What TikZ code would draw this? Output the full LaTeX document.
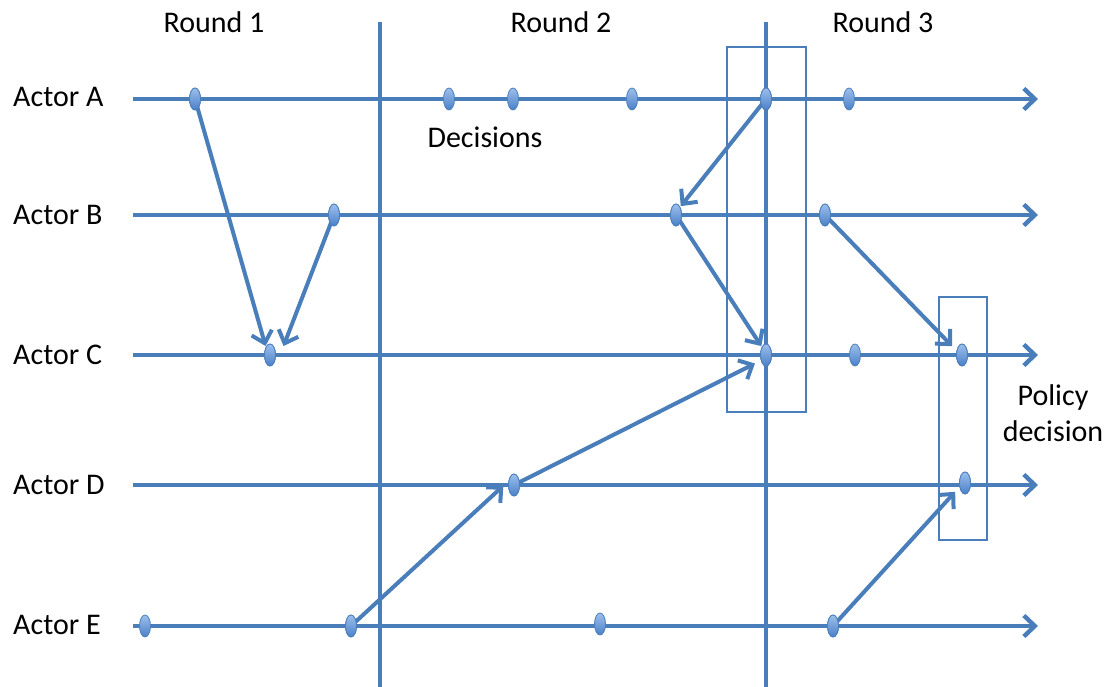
\documentclass[tikz,border=0pt]{standalone}
\usepackage{fontspec}
\setmainfont{Carlito}
\usetikzlibrary{arrows.meta,shapes.geometric}
\definecolor{lineblue}{HTML}{4A7EBB}
\definecolor{dotlight}{HTML}{9DC0EC}
\definecolor{dotdark}{HTML}{4A7FC8}
\begin{document}
\begin{tikzpicture}[x=1pt,y=-1pt,
  label/.style={font=\fontsize{30}{36}\selectfont, inner sep=0pt},
  timeline/.style={draw=lineblue, line width=4.4pt, -{Straight Barb[length=11pt,width=21pt]}},
  roundline/.style={draw=lineblue, line width=3.6pt},
  frame/.style={draw=lineblue, line width=1.3pt},
  event/.style={ellipse, minimum width=11pt, minimum height=22pt, inner sep=0pt,
    draw=lineblue, line width=0.8pt, top color=dotlight, bottom color=dotdark},
  msg/.style={draw=lineblue, line width=4pt, -{Straight Barb[length=11pt,width=21pt]}, shorten >=1pt}]
\useasboundingbox (0,0) rectangle (1113,687);

% actor names
\node[label, anchor=west] (la) at (13,97) {Actor A};
\node[label, anchor=west] (lb) at (13,215) {Actor B};
\node[label, anchor=west] (lc) at (13,355) {Actor C};
\node[label, anchor=west] (ld) at (13,485) {Actor D};
\node[label, anchor=west] (le) at (13,625) {Actor E};

% round headings
\node[label] (r1) at (214,22) {Round 1};
\node[label] (r2) at (561,22) {Round 2};
\node[label] (r3) at (883,22) {Round 3};
\node[label] (dec) at (485,137) {Decisions};
\node[label, align=center] (pol) at (1053,413) {Policy\\decision};

% timeline end points
\coordinate (a0) at (133,99);  \coordinate (a1) at (1038,99);
\coordinate (b0) at (133,215); \coordinate (b1) at (1038,215);
\coordinate (c0) at (133,355); \coordinate (c1) at (1038,355);
\coordinate (d0) at (133,485); \coordinate (d1) at (1038,485);
\coordinate (e0) at (133,626); \coordinate (e1) at (1038,626);

\foreach \t in {a,b,c,d,e} \draw[timeline] (\t0) -- (\t1);

% round separators
\coordinate (s1t) at (380,22); \coordinate (s1b) at (380,687);
\coordinate (s2t) at (766,22); \coordinate (s2b) at (766,687);
\draw[roundline] (s1t) -- (s1b);
\draw[roundline] (s2t) -- (s2b);

% grouping frames
\draw[frame] (727,47) rectangle (806,412);
\draw[frame] (939,297) rectangle (987,540);

% events
\node[event] (a1e) at (195,99) {};
\node[event] (a2e) at (449,99) {};
\node[event] (a3e) at (513,99) {};
\node[event] (a4e) at (632,99) {};
\node[event] (a5e) at (766,99) {};
\node[event] (a6e) at (849,99) {};
\node[event] (b1e) at (334,215) {};
\node[event] (b2e) at (676,215) {};
\node[event] (b3e) at (825,215) {};
\node[event] (c1e) at (270,355) {};
\node[event] (c2e) at (766,355) {};
\node[event] (c3e) at (855,355) {};
\node[event] (c4e) at (962,355) {};
\node[event] (d1e) at (514,485) {};
\node[event] (d2e) at (965,483) {};
\node[event] (e1e) at (145,626) {};
\node[event] (e2e) at (351,626) {};
\node[event] (e3e) at (600,624) {};
\node[event] (e4e) at (833,626) {};

% messages between actors
\draw[msg] (a1e.center) -- (c1e.north west);
\draw[msg] (b1e.center) -- ([xshift=9pt]c1e.north east);
\draw[msg] (a5e.center) -- (b2e.north east);
\draw[msg] (b2e.center) -- (c2e.north west);
\draw[msg] (e2e.center) -- ([xshift=-4pt]d1e.west);
\draw[msg] (d1e.center) -- ([xshift=-6pt]c2e.south west);
\draw[msg] (b3e.center) -- ([xshift=-5pt]c4e.north west);
\draw[msg] (e4e.center) -- ([xshift=-5pt]d2e.south west);

% redraw events over the messages
\foreach \n in {a1e,a5e,b1e,b2e,b3e,c1e,c2e,c4e,d1e,d2e,e2e,e4e}
  \node[event] at (\n.center) {};
\end{tikzpicture}
\end{document}
